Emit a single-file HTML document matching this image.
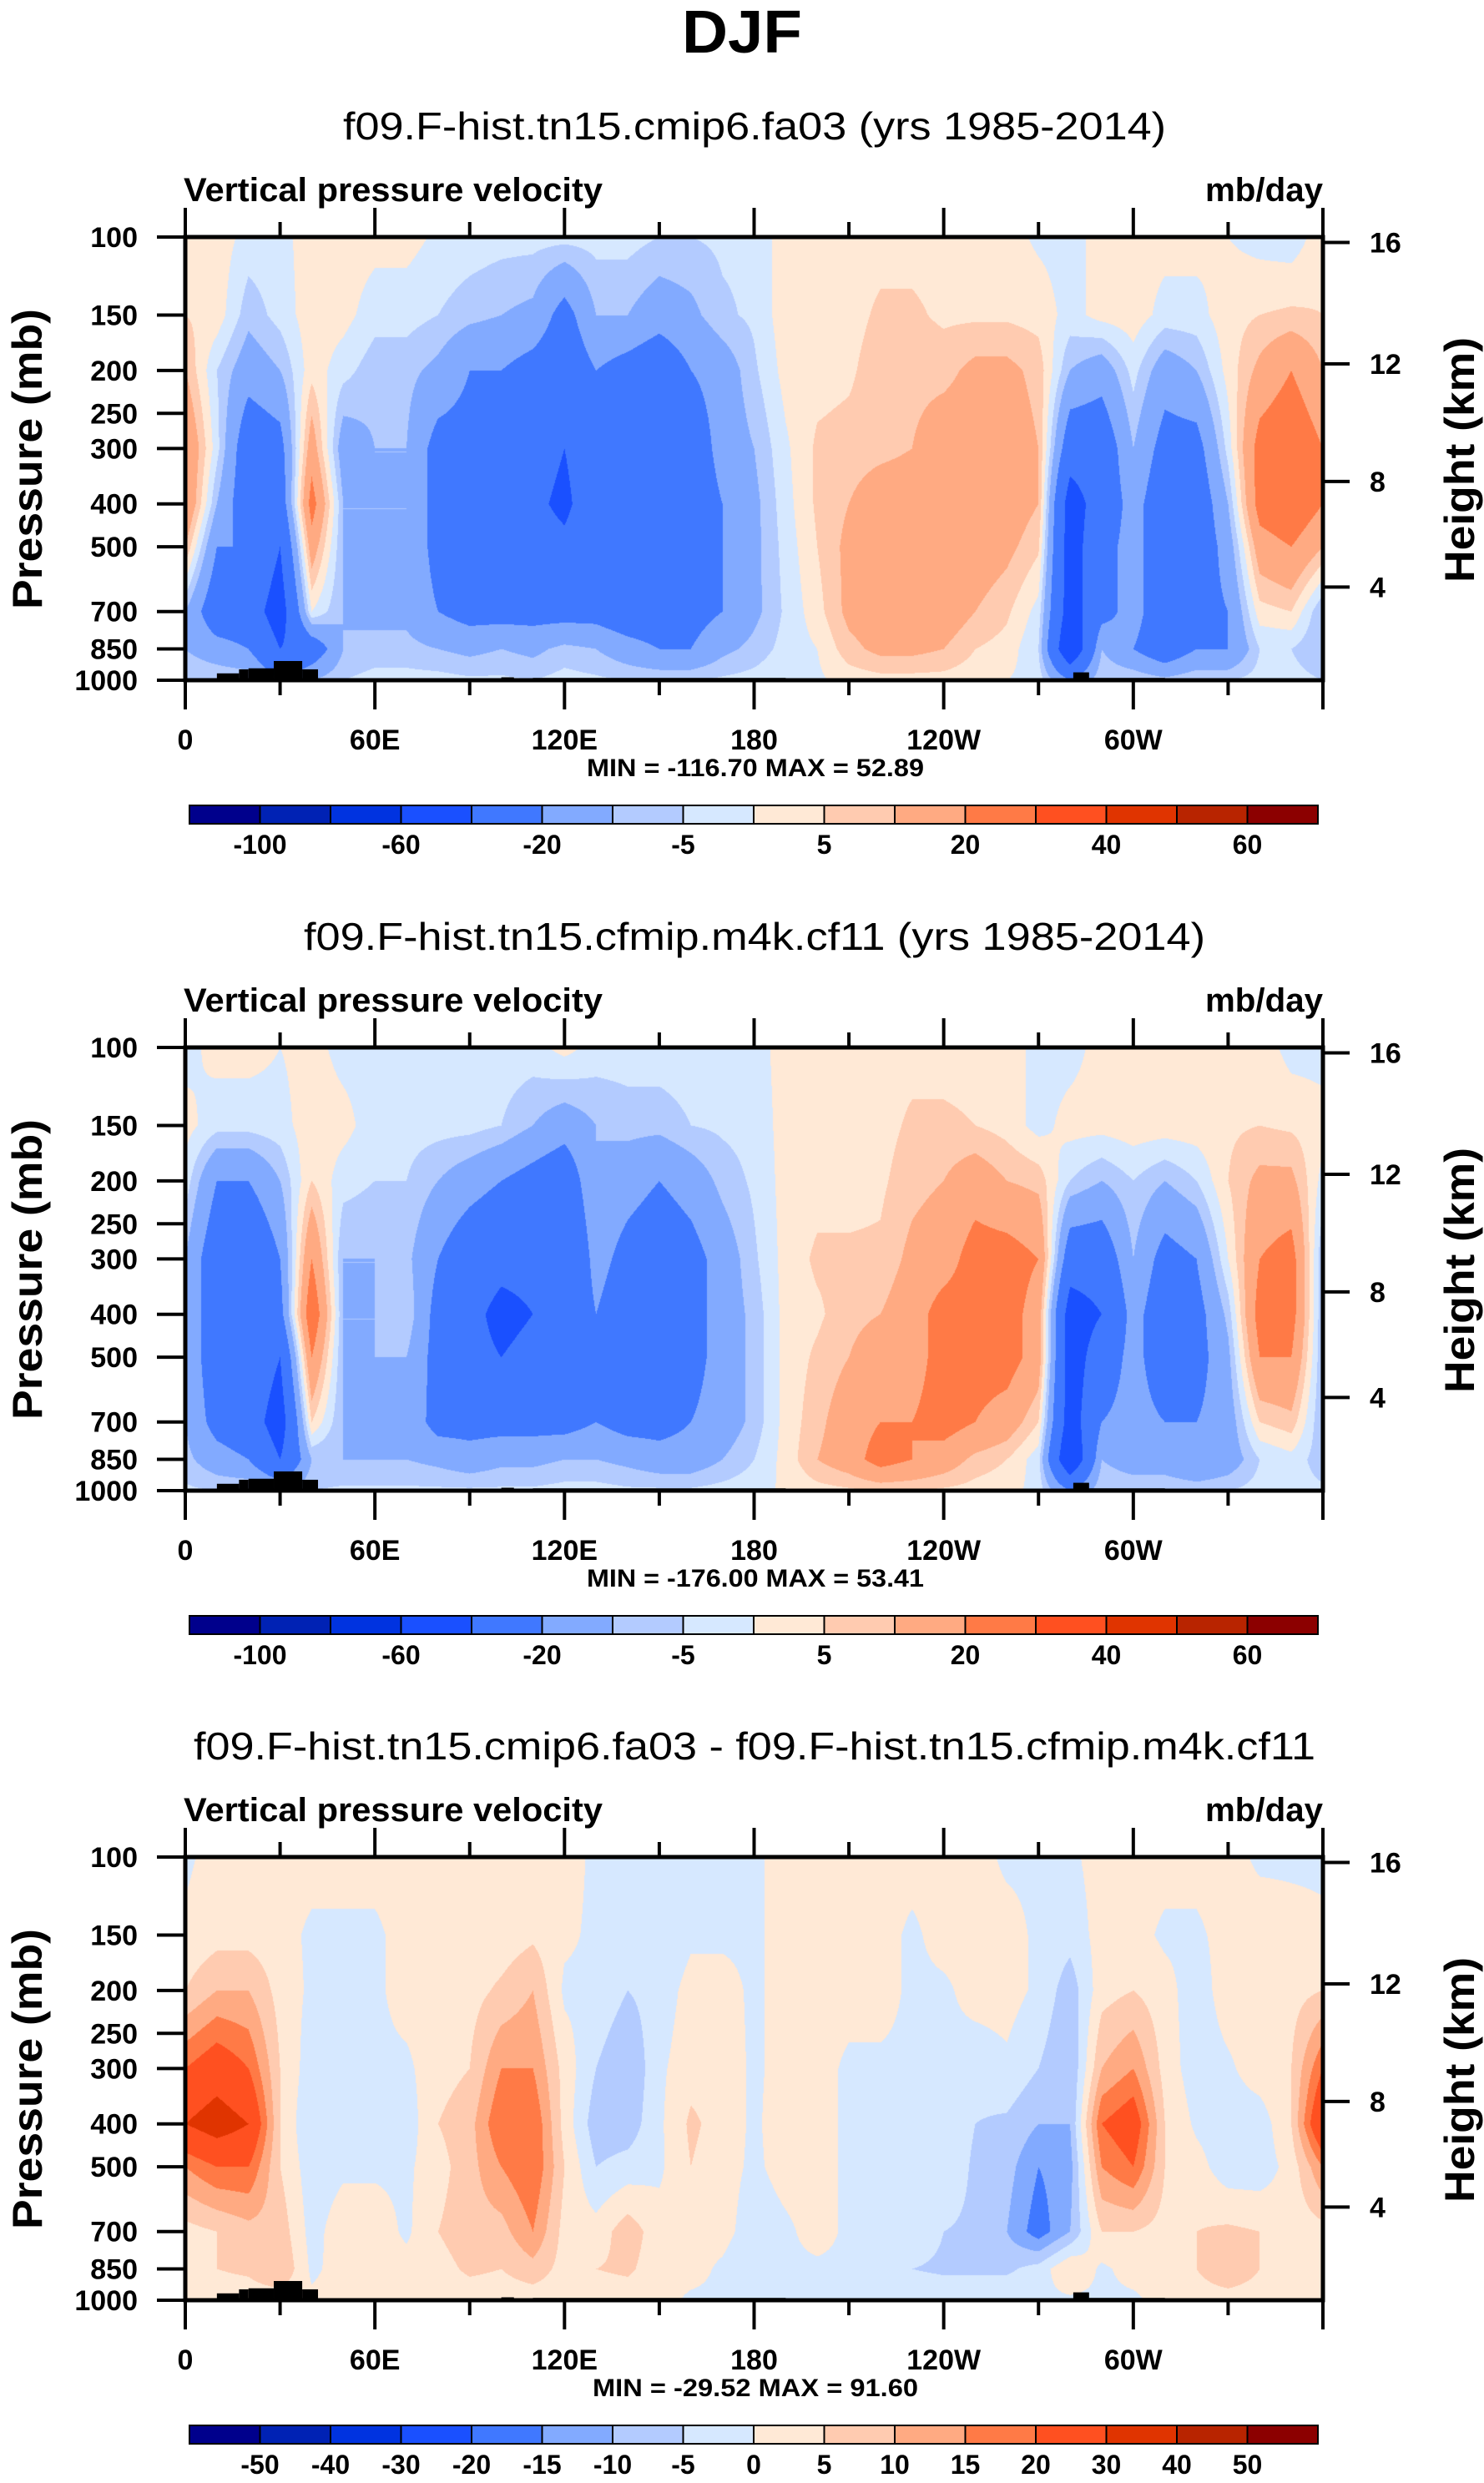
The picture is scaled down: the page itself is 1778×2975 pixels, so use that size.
<!DOCTYPE html>
<html><head><meta charset="utf-8">
<style>
html,body{margin:0;padding:0;background:#fff;}
#wrap{position:relative;width:1778px;height:2975px;overflow:hidden;background:#fff;}
canvas{position:absolute;}
svg{position:absolute;left:0;top:0;}
text{font-family:"Liberation Sans",sans-serif;fill:#000;}
</style></head>
<body>
<div id="wrap">
<canvas id="c0"></canvas>
<canvas id="c1"></canvas>
<canvas id="c2"></canvas>
<svg id="svg" width="1778" height="2975" xmlns="http://www.w3.org/2000/svg"></svg>
</div>
<script>
// ---------------- data ----------------
const levels = [100,150,200,300,400,500,700,850,1000];
const lonStep = 10; // 36 columns, 0..350
// each row: values at levels 100..1000 for one longitude
const case1 = [
[3,5,10,20,20,10,-10,-10,-5],[3,3,-5,-3,-10,-20,-30,-15,-5],[-2,-8,-15,-30,-30,-20,-30,-20,-5],
[-2,-3,-10,-25,-30,-40,-50,-40,-20],[3,3,3,15,25,15,0,-30,-10],[3,2,-3,-15,-10,-10,-10,-10,-5],
[2,-3,-8,-10,-10,-10,-12,-8,-3],[2,-3,-8,-10,-10,-10,-12,-8,-3],[-1,-5,-12,-25,-25,-25,-20,-10,-3],
[-2,-8,-20,-25,-35,-35,-25,-12,-4],[-3,-10,-20,-30,-35,-30,-25,-10,-4],[-3,-12,-25,-30,-35,-30,-25,-12,-5],
[-3,-25,-30,-40,-45,-35,-25,-8,-3],[-3,-10,-20,-25,-25,-25,-25,-10,-4],[-3,-10,-25,-30,-35,-35,-30,-15,-5],
[-5,-15,-30,-35,-35,-35,-30,-20,-5],[-5,-12,-20,-30,-30,-30,-25,-20,-5],[-4,-6,-15,-15,-20,-20,-20,-12,-4],
[-4,-4,-6,-10,-12,-12,-12,-8,-3],[3,3,2,-1,-2,-3,-4,-3,-1],[3,3,3,6,6,5,3,0,-1],
[3,3,4,7,10,12,12,8,2],[3,6,8,8,15,15,15,12,3],[3,6,8,10,15,15,15,12,3],
[3,4,8,15,15,15,15,10,3],[3,4,12,15,15,15,10,5,2],[2,4,12,15,15,12,6,3,0],
[-1,3,8,10,10,6,-2,-5,-2],[-2,-2,-10,-30,-50,-50,-50,-60,-20],[2,2,-15,-30,-30,-25,-25,-10,-5],
[2,3,-3,-10,-15,-15,-15,-20,-5],[2,-2,-15,-25,-30,-30,-30,-30,-8],[2,-2,-10,-25,-30,-30,-25,-20,-5],
[0,3,2,-3,-10,-15,-20,-20,-5],[-2,5,12,25,25,15,3,-5,-3],[-3,6,20,30,30,20,5,-5,-3]
];
const case2 = [
[-2,2,-2,-10,-10,-10,-10,-8,-4],[2,-3,-20,-30,-30,-30,-25,-15,-5],[2,-3,-20,-35,-25,-25,-30,-20,-4],
[0,-2,-10,-20,-25,-40,-50,-40,-10],[2,3,5,20,30,20,5,-10,-5],[-2,2,-3,-10,-10,-10,-10,-10,-4],
[-2,-3,-5,-10,-10,-10,-12,-10,-4],[-2,-3,-5,-8,-5,-10,-12,-10,-4],[-2,-3,-10,-20,-25,-25,-25,-12,-4],
[-2,-3,-15,-30,-35,-35,-25,-15,-4],[-2,-5,-20,-35,-45,-40,-25,-12,-4],[-2,-10,-25,-35,-40,-35,-25,-12,-4],
[2,-15,-30,-40,-35,-35,-25,-10,-3],[-2,-10,-10,-15,-20,-20,-20,-10,-3],[-2,-8,-15,-25,-30,-30,-25,-12,-4],
[-2,-8,-20,-30,-35,-35,-25,-15,-4],[-2,-5,-15,-25,-25,-25,-20,-15,-4],[-2,-4,-8,-15,-15,-15,-15,-10,-3],
[-2,-3,-4,-6,-8,-8,-8,-5,-2],[2,2,2,2,2,2,2,2,1],[3,3,3,6,4,6,8,10,3],
[3,3,3,6,8,10,15,15,4],[3,3,4,6,10,15,20,25,5],[3,6,8,12,15,15,20,20,5],
[3,6,10,15,25,25,25,15,4],[3,5,15,25,25,25,20,8,3],[3,3,10,25,25,25,15,5,2],
[-2,-2,8,20,15,15,5,-3,-2],[-2,2,-5,-30,-50,-50,-50,-60,-20],[2,2,-10,-30,-40,-30,-20,-10,-5],
[2,3,-5,-10,-15,-15,-15,-15,-5],[2,3,-10,-25,-30,-30,-20,-15,-5],[2,3,-5,-20,-25,-25,-20,-20,-6],
[2,4,5,0,-8,-12,-15,-15,-5],[3,5,12,20,25,20,5,-5,-3],[-2,4,12,25,25,20,8,-2,-3]
];
const diff = [
[-1,1,5,20,30,15,3,3,2],[2,3,10,25,35,20,5,5,2],[2,3,10,20,30,20,8,6,2],
[2,2,3,5,5,5,8,10,2],[2,-1,-1,-3,-5,-3,-2,-1,1],[2,-1,-1,-3,-1,-1,3,2,2],
[2,-1,-1,-1,-3,-1,3,2,2],[2,2,2,-1,-3,-1,-1,2,2],[2,2,2,3,5,3,5,3,2],
[2,2,3,5,8,8,8,6,2],[2,2,6,15,20,15,8,5,2],[2,4,10,15,20,20,15,8,2],
[2,1,-1,3,3,5,3,3,2],[-1,-1,-1,-5,-8,-5,2,5,2],[-1,-1,-5,-10,-8,-3,8,6,2],
[-1,-5,-3,-1,-1,-1,2,2,2],[-1,-1,2,3,6,5,2,2,-1],[-1,-1,2,3,3,2,2,-1,-1],
[-1,-1,-1,-1,-1,-1,-3,-5,-1],[2,2,2,2,3,2,-1,-1,-1],[2,2,2,2,2,2,2,-1,-1],
[2,2,2,-1,-1,-1,-1,-1,-1],[2,2,2,-1,-1,-1,-1,-1,-1],[2,-1,-1,-1,-1,-1,-1,-5,-1],
[2,2,-1,-1,-1,-1,-5,-6,-1],[2,2,2,-3,-5,-6,-6,-6,-1],[-1,2,2,-1,-6,-8,-10,-6,-1],
[-1,-1,-1,-5,-10,-15,-18,-3,-1],[-1,-3,-8,-10,-10,-12,-10,5,-1],[2,2,3,10,20,15,5,-1,-1],
[2,2,5,15,25,20,5,2,-1],[2,-1,2,3,5,5,3,2,2],[2,-1,-3,-3,-1,2,5,5,2],
[2,2,3,-1,-3,-3,6,10,2],[-1,3,3,3,-3,-3,5,5,2],[-1,2,3,5,5,2,2,2,2]
];
const bounds1 = [-100,-80,-60,-40,-20,-10,-5,0,5,10,20,30,40,50,60];
const bounds3 = [-50,-40,-30,-20,-15,-10,-5,0,5,10,15,20,30,40,50];
const cbLabels1 = ["-100","-60","-20","-5","5","20","40","60"];
const cbLabels3 = ["-50","-40","-30","-20","-15","-10","-5","0","5","10","15","20","30","40","50"];
const palette = ["#00008c","#0022b4","#0033e0","#1a50ff","#4078ff","#82aaff","#b3cbff","#d6e8ff",
                 "#ffe9d6","#ffcbb0","#ffaa82","#ff7a46","#ff5020","#e03400","#b82400","#8c0000"];
const xTickVals = [0,60,120,180,240,300];
const xTickLabels = ["0","60E","120E","180","120W","60W"];
const pTicks = [100,150,200,250,300,400,500,700,850,1000];
const zTicks = [16,12,8,4];
// topography: [lonStart, lonEnd, surface pressure top]
const topo = [[10,17,965],[17,20,945],[20,28,940],[28,37,905],[37,42,945],[100,104,985],[110,118,988],[118,190,988],[281,286,960],[286,310,988]];
const titles = ["f09.F-hist.tn15.cmip6.fa03 (yrs 1985-2014)","f09.F-hist.tn15.cfmip.m4k.cf11 (yrs 1985-2014)","f09.F-hist.tn15.cmip6.fa03 - f09.F-hist.tn15.cfmip.m4k.cf11"];
const minmax = ["MIN = -116.70  MAX =  52.89","MIN = -176.00  MAX =  53.41","MIN = -29.52  MAX =  91.60"];

// ---------------- layout ----------------
const X0=222, X1=1585, PH=531;
const tops=[284,1255,2225];
const titleW=[986,1080,1344];
const fields=[case1,case2,diff];
const bnds=[bounds1,bounds1,bounds3];
const L100=Math.log(100), LR=Math.log(10);
function xOf(lon){return X0+(lon/360)*(X1-X0);}
function yOf(p,top){return top+(Math.log(p)-L100)/LR*PH;}
function zToP(zkm){const z=zkm*1000; if(z<=11000) return 1013.25*Math.pow(1-2.25577e-5*z,5.25588); return 226.32*Math.exp(-(z-11000)/6341.6);}

const NS="http://www.w3.org/2000/svg";
const svg=document.getElementById('svg');
function el(tag,attrs,parent){const e=document.createElementNS(NS,tag);for(const k in attrs)e.setAttribute(k,attrs[k]);(parent||svg).appendChild(e);return e;}
function txt(s,attrs,parent){const e=el('text',attrs,parent);e.textContent=s;return e;}

// ---- contours on canvas ----
const lnL=levels.map(Math.log);
function sample(F,lon,lnp){
  let fi=lon/lonStep, i=Math.floor(fi), f=fi-i; i=i%36; const i2=(i+1)%36;
  let k=0; while(k<levels.length-2 && lnp>lnL[k+1]) k++;
  let g=(lnp-lnL[k])/(lnL[k+1]-lnL[k]); g=Math.max(0,Math.min(1,g));
  const a=F[i][k]*(1-g)+F[i][k+1]*g, b=F[i2][k]*(1-g)+F[i2][k+1]*g;
  return a*(1-f)+b*f;
}
const rgb=palette.map(h=>[parseInt(h.substr(1,2),16),parseInt(h.substr(3,2),16),parseInt(h.substr(5,2),16)]);
for(let p=0;p<3;p++){
  const cv=document.getElementById('c'+p), W=X1-X0, H=PH;
  cv.width=W; cv.height=H; cv.style.left=X0+'px'; cv.style.top=tops[p]+'px';
  const ctx=cv.getContext('2d'), img=ctx.createImageData(W,H), d=img.data;
  const F=fields[p], B=bnds[p];
  for(let y=0;y<H;y++){
    const lnp=L100+(y+0.5)/H*LR;
    for(let x=0;x<W;x++){
      const v=sample(F,(x+0.5)/W*360,lnp);
      let c=0; while(c<B.length && v>B[c]) c++;
      const o=(y*W+x)*4; d[o]=rgb[c][0]; d[o+1]=rgb[c][1]; d[o+2]=rgb[c][2]; d[o+3]=255;
    }
  }
  ctx.putImageData(img,0,0);
}

// ---- SVG decorations ----
let t=txt("DJF",{x:889,y:63,'text-anchor':'middle','font-size':72,'font-weight':'bold',textLength:144,lengthAdjust:'spacingAndGlyphs'});
 

for(let p=0;p<3;p++){
  const top=tops[p], bot=top+PH;
  const g=el('g',{});
   
  t=txt(titles[p],{x:904,y:top-117,'text-anchor':'middle','font-size':46,textLength:titleW[p],lengthAdjust:'spacingAndGlyphs'},g);
   
  t=txt("Vertical pressure velocity",{x:220,y:top-43,'font-size':40,'font-weight':'bold',textLength:502,lengthAdjust:'spacingAndGlyphs'},g);
   
  t=txt("mb/day",{x:1585,y:top-43,'text-anchor':'end','font-size':40,'font-weight':'bold',textLength:141,lengthAdjust:'spacingAndGlyphs'},g);
   
  topo.forEach(r=>{
    const x1=xOf(r[0]), x2=xOf(r[1]), y1=yOf(r[2],top);
    const rc=el('rect',{x:x1,y:y1,width:x2-x1,height:bot-y1,fill:'#000'},g);
     
  });
  const fr=el('rect',{x:X0,y:top,width:X1-X0,height:PH,fill:'none',stroke:'#000','stroke-width':5},g);
   
  for(let lon=0;lon<=360;lon+=30){
    const x=xOf(lon), major=lon%60===0, len=major?35:18;
    let ln=el('line',{x1:x,x2:x,y1:bot,y2:bot+len,stroke:'#000','stroke-width':4},g);
     
    ln=el('line',{x1:x,x2:x,y1:top,y2:top-len,stroke:'#000','stroke-width':4},g);
     
  }
  xTickVals.forEach((v,i)=>{
    t=txt(xTickLabels[i],{x:xOf(v),y:bot+83,'text-anchor':'middle','font-size':34,'font-weight':'bold'},g);
     
  });
  pTicks.forEach(pv=>{
    const y=yOf(pv,top);
    let ln=el('line',{x1:X0-34,x2:X0,y1:y,y2:y,stroke:'#000','stroke-width':4},g);
     
    t=txt(String(pv),{x:165,y:y+12,'text-anchor':'end','font-size':34,'font-weight':'bold'},g);
     
  });
  zTicks.forEach(z=>{
    const y=yOf(zToP(z),top);
    let ln=el('line',{x1:X1,x2:X1+32,y1:y,y2:y,stroke:'#000','stroke-width':4},g);
     
    t=txt(String(z),{x:1641,y:y+12,'font-size':34,'font-weight':'bold'},g);
     
  });
  t=txt("Pressure (mb)",{x:0,y:0,'text-anchor':'middle','font-size':50,'font-weight':'bold',textLength:360,lengthAdjust:'spacingAndGlyphs',transform:`translate(50,${top+266}) rotate(-90)`},g);
   
  t=txt("Height (km)",{x:0,y:0,'text-anchor':'middle','font-size':50,'font-weight':'bold',textLength:294,lengthAdjust:'spacingAndGlyphs',transform:`translate(1766,${top+267}) rotate(-90)`},g);
   
  t=txt(minmax[p],{x:905,y:bot+115,'text-anchor':'middle','font-size':30,'font-weight':'bold',textLength:p===2?390:404,lengthAdjust:'spacingAndGlyphs'},g);
   
  const cbX=227, cbW=1352/16, cbY=top+681, cbH=22;
  for(let k=0;k<16;k++){
    const r=el('rect',{x:cbX+k*cbW,y:cbY,width:cbW,height:cbH,fill:palette[k],stroke:'#000','stroke-width':2},g);
     
  }
  const labs = p===2?cbLabels3:cbLabels1;
  labs.forEach((s,i)=>{
    const k = p===2 ? i+1 : 2*i+1;
    t=txt(s,{x:cbX+k*cbW,y:top+739,'text-anchor':'middle','font-size':32,'font-weight':'bold'},g);
     
  });
}
</script>
</body></html>
